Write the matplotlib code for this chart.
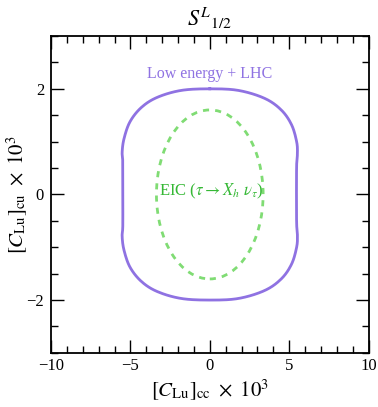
import matplotlib
matplotlib.use("Agg")
import numpy as np
import matplotlib.pyplot as plt
from matplotlib.patches import Ellipse
from matplotlib.ticker import MultipleLocator

# Low energy + LHC contour (x, y in units of 1e-3)
lhc_x = [0.0, 1.8, 3.45, 4.5, 5.15, 5.47, 5.52, 5.47, 5.46, 5.47, 5.52, 5.47,
         5.15, 4.5, 3.45, 1.8, 0.0, -1.8, -3.3, -4.3, -5.02, -5.4, -5.52,
         -5.48, -5.48, -5.48, -5.52, -5.4, -5.02, -4.3, -3.3, -1.8, 0.0]
lhc_y = [2.0, 1.97, 1.82, 1.6, 1.32, 1.0, 0.78, 0.55, 0.0, -0.55, -0.78, -1.0,
         -1.32, -1.6, -1.82, -1.97, -2.0, -1.97, -1.84, -1.65, -1.38, -1.06,
         -0.8, -0.6, 0.0, 0.6, 0.8, 1.06, 1.38, 1.65, 1.84, 1.97, 2.0]

# EIC ellipse (centre, full width, full height)
eic_center = (0.0, 0.0)
eic_width = 6.72
eic_height = 3.2

purple = "#8f72e2"
green_line = "#80dc74"
green_text = "#35b835"

plt.rcParams["font.family"] = ["Liberation Serif", "DejaVu Serif"]
plt.rcParams["mathtext.fontset"] = "stix"

fig = plt.figure(figsize=(3.78, 4.07), dpi=100)
ax = fig.add_axes([0.135, 0.133, 0.84, 0.7785])

# smooth the read-off points with a periodic Catmull-Rom path
pts = np.array(list(zip(lhc_x, lhc_y))[:-1])
n = len(pts)
curve = []
for i in range(n):
    p0, p1, p2, p3 = pts[i - 1], pts[i], pts[(i + 1) % n], pts[(i + 2) % n]
    for t in np.linspace(0, 1, 12, endpoint=False):
        t2, t3 = t * t, t * t * t
        curve.append(0.5 * ((2 * p1) + (-p0 + p2) * t
                            + (2 * p0 - 5 * p1 + 4 * p2 - p3) * t2
                            + (-p0 + 3 * p1 - 3 * p2 + p3) * t3))
curve.append(curve[0])
curve = np.array(curve)
ax.plot(curve[:, 0], curve[:, 1], color=purple, lw=2.0)

ax.add_patch(Ellipse(eic_center, eic_width, eic_height, fill=False,
                     edgecolor=green_line, lw=2.0, linestyle=(0, (2.2, 2.2))))

ax.text(0, 2.28, "Low energy + LHC", color=purple, fontsize=11.5,
        ha="center", va="center")
ax.text(0.1, 0.05, r"EIC ($\tau \rightarrow X_h\ \nu_\tau$)", color=green_text,
        fontsize=12, ha="center", va="center")

ax.set_xlim(-10, 10)
ax.set_ylim(-3, 3)
ax.xaxis.set_major_locator(MultipleLocator(5))
ax.xaxis.set_minor_locator(MultipleLocator(1))
ax.yaxis.set_major_locator(MultipleLocator(2))
ax.yaxis.set_minor_locator(MultipleLocator(0.5))
ax.tick_params(which="both", direction="in", top=True, right=True,
               labelsize=12, width=1.0)
ax.tick_params(which="major", length=9.5)
ax.tick_params(axis="x", which="major", pad=4)
ax.tick_params(axis="y", which="major", pad=5)
ax.tick_params(which="minor", length=4.8)
for s in ax.spines.values():
    s.set_linewidth(1.3)

ax.set_xlabel(r"$[C_{\rm Lu}]_{\rm cc}\ \times\ 10^3$", fontsize=15, labelpad=2)
ax.set_ylabel(r"$[C_{\rm Lu}]_{\rm cu}\ \times\ 10^3$", fontsize=15)
ax.yaxis.set_label_coords(-0.07, 0.5)
ax.set_title(r"$S^{L}{}_{1/2}$", fontsize=16, pad=7)

fig.savefig("out.png", dpi=100)
